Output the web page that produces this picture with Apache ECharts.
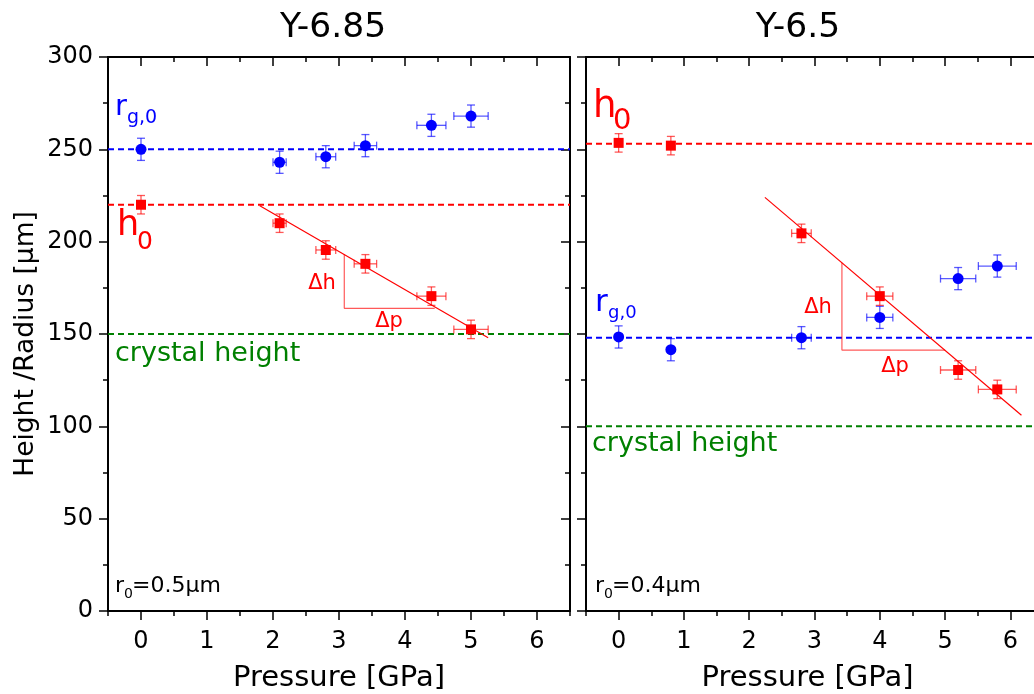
<!DOCTYPE html>
<html>
<head>
<meta charset="utf-8">
<script src="https://cdn.jsdelivr.net/npm/echarts@6/dist/echarts.min.js"></script>
<style>
html, body { margin: 0; padding: 0; background: #fff; }
#chart { width: 1034px; height: 694px; }
</style>
</head>
<body>
<div id="chart"></div>
<script>
// Axis ticks
const pressureRange = [-0.5, 6.5];
const pressureTicks = [0, 1, 2, 3, 4, 5, 6];
const pressureMinorTicks = [-0.5, 0.5, 1.5, 2.5, 3.5, 4.5, 5.5, 6.5];
const sizeTicks = [0, 50, 100, 150, 200, 250, 300];

// Y-6.85 sample
const pressureA = [0, 2.1, 2.8, 3.4, 4.4, 5.0];
const pressureErrA = [0, 0.1, 0.15, 0.17, 0.22, 0.26];
const radiusA = [250, 243, 246, 252, 263, 268];
const radiusErrA = [6, 6, 6, 6, 6, 6];
const heightA = [220, 210, 195.5, 188, 170.5, 152.5];
const heightErrA = [5, 5, 5, 5, 5, 5];
const fitPressureA = [1.8, 5.26];
const fitHeightA = [219.5, 148];
const slopePressureA = [3.08, 3.08, 4.45];
const slopeHeightA = [193.2, 163.9, 163.9];
const radiusRefA = 250;
const heightRefA = 220;
const crystalRefA = 150;

// Y-6.5 sample
const pressureB = [0, 0.8, 2.8, 4.0, 5.2, 5.8];
const pressureErrB = [0, 0, 0.15, 0.2, 0.27, 0.29];
const radiusB = [148.4, 141.5, 148, 159, 180, 186.8];
const radiusErrB = [6, 6, 6, 6, 6, 6];
const heightB = [253.5, 252, 204.5, 170.5, 130.5, 120];
const heightErrB = [5, 5, 5, 5, 5, 5];
const fitPressureB = [2.24, 6.17];
const fitHeightB = [224, 106];
const slopePressureB = [3.42, 3.42, 5.0];
const slopeHeightB = [188.6, 141.3, 141.3];
const radiusRefB = 148;
const heightRefB = 253;
const crystalRefB = 100;

const FONT = '"DejaVu Sans", sans-serif';
const BLUE = '#0000ff';
const RED = '#ff0000';
const GREEN = '#008000';
const BLACK = '#000';

const zip = (a, b) => a.map((v, i) => [v, b[i]]);
const zip4 = (a, b, c, d) => a.map((v, i) => [v, b[i], c[i], d[i]]);

function errorBars(color) {
  return function (params, api) {
    const x = api.value(0), y = api.value(1), xe = api.value(2), ye = api.value(3);
    const st = { stroke: color, lineWidth: 1.3 };
    const top = api.coord([x, y + ye]);
    const bot = api.coord([x, y - ye]);
    const cap = 4;
    const kids = [
      { type: 'line', shape: { x1: top[0], y1: top[1], x2: bot[0], y2: bot[1] }, style: st },
      { type: 'line', shape: { x1: top[0] - cap, y1: top[1], x2: top[0] + cap, y2: top[1] }, style: st },
      { type: 'line', shape: { x1: bot[0] - cap, y1: bot[1], x2: bot[0] + cap, y2: bot[1] }, style: st }
    ];
    if (xe > 0) {
      const l = api.coord([x - xe, y]);
      const r = api.coord([x + xe, y]);
      kids.push(
        { type: 'line', shape: { x1: l[0], y1: l[1], x2: r[0], y2: r[1] }, style: st },
        { type: 'line', shape: { x1: l[0], y1: l[1] - cap, x2: l[0], y2: l[1] + cap }, style: st },
        { type: 'line', shape: { x1: r[0], y1: r[1] - cap, x2: r[0], y2: r[1] + cap }, style: st }
      );
    }
    return { type: 'group', children: kids };
  };
}

const axisLineStyle = { color: BLACK, width: 2 };
const tickStyle = { color: BLACK, width: 1.5 };

function xAxesFor(g, namePad) {
  const base = {
    gridIndex: g, type: 'value', min: pressureRange[0], max: pressureRange[1],
    splitLine: { show: false }, axisLabel: { show: false }
  };
  return [
    Object.assign({}, base, {
      position: 'bottom',
      axisLine: { onZero: false, lineStyle: axisLineStyle },
      axisTick: { customValues: pressureTicks, length: 9, lineStyle: tickStyle },
      axisLabel: { customValues: pressureTicks, fontSize: 24, color: BLACK, fontFamily: FONT, margin: 19 },
      name: 'Pressure [GPa]',
      nameLocation: 'middle', nameGap: 53,
      nameTextStyle: { fontSize: 29, color: BLACK, fontFamily: FONT, padding: namePad }
    }),
    Object.assign({}, base, {
      position: 'bottom',
      axisLine: { show: false, onZero: false },
      axisTick: { customValues: pressureMinorTicks, length: 5, lineStyle: tickStyle }
    }),
    Object.assign({}, base, {
      position: 'top',
      axisLine: { onZero: false, lineStyle: axisLineStyle },
      axisTick: { inside: true, customValues: pressureTicks, length: 9, lineStyle: tickStyle }
    }),
    Object.assign({}, base, {
      position: 'top',
      axisLine: { show: false, onZero: false },
      axisTick: { inside: true, customValues: pressureMinorTicks, length: 5, lineStyle: tickStyle }
    })
  ];
}

function yAxesFor(g, withLabels) {
  const base = {
    gridIndex: g, type: 'value', min: 0, max: 300, splitLine: { show: false },
    minorSplitLine: { show: false }
  };
  return [
    Object.assign({}, base, {
      position: 'left',
      axisLine: { onZero: false, lineStyle: axisLineStyle },
      axisTick: { customValues: sizeTicks, length: 9, lineStyle: tickStyle },
      minorTick: { show: true, splitNumber: 2, length: 5, lineStyle: tickStyle },
      axisLabel: withLabels
        ? { customValues: sizeTicks, fontSize: 24, color: BLACK, fontFamily: FONT, margin: 15 }
        : { show: false },
      name: withLabels ? 'Height /Radius [µm]' : '',
      nameLocation: 'middle', nameGap: 68,
      nameTextStyle: { fontSize: 26.5, color: BLACK, fontFamily: FONT, padding: [0, 20, 0, 0] }
    }),
    Object.assign({}, base, {
      position: 'right',
      axisLine: { onZero: false, lineStyle: axisLineStyle },
      axisTick: { inside: true, customValues: sizeTicks, length: 9, lineStyle: tickStyle },
      minorTick: { show: true, splitNumber: 2, length: 5, lineStyle: tickStyle },
      axisLabel: { show: false }
    })
  ];
}

function refLine(xi, yi, value, color) {
  return {
    type: 'line', xAxisIndex: xi, yAxisIndex: yi, silent: true, symbol: 'none', z: 1,
    data: pressureRange.map(p => [p, value]),
    lineStyle: { color: color, width: 2, type: [6, 4] }
  };
}

function panelSeries(xi, yi, p, pe, rad, rade, h, he, fitP, fitH, sP, sH, rRef, hRef, cRef) {
  return [
    refLine(xi, yi, rRef, BLUE),
    refLine(xi, yi, hRef, RED),
    refLine(xi, yi, cRef, GREEN),
    {
      type: 'line', xAxisIndex: xi, yAxisIndex: yi, silent: true, symbol: 'none', z: 2,
      data: zip(fitP, fitH), lineStyle: { color: RED, width: 1.2 }
    },
    {
      type: 'line', xAxisIndex: xi, yAxisIndex: yi, silent: true, symbol: 'none', z: 2,
      data: zip(sP, sH), lineStyle: { color: 'rgba(255,0,0,0.65)', width: 1.2 }
    },
    {
      type: 'custom', xAxisIndex: xi, yAxisIndex: yi, z: 3, silent: true,
      renderItem: errorBars('rgba(0,0,255,0.65)'), data: zip4(p, rad, pe, rade),
      encode: { x: 0, y: 1 }
    },
    {
      type: 'custom', xAxisIndex: xi, yAxisIndex: yi, z: 3, silent: true,
      renderItem: errorBars('rgba(255,0,0,0.65)'), data: zip4(p, h, pe, he),
      encode: { x: 0, y: 1 }
    },
    {
      type: 'scatter', xAxisIndex: xi, yAxisIndex: yi, z: 4, symbol: 'circle', symbolSize: 11,
      itemStyle: { color: BLUE, opacity: 1 }, data: zip(p, rad)
    },
    {
      type: 'scatter', xAxisIndex: xi, yAxisIndex: yi, z: 4, symbol: 'rect', symbolSize: 10,
      itemStyle: { color: RED, opacity: 1 }, data: zip(p, h)
    }
  ];
}

function txt(x, y, text, size, color, align) {
  return {
    type: 'text', x: x, y: y, silent: true,
    style: { text: text, fill: color, font: size + 'px ' + FONT, align: align || 'left', verticalAlign: 'middle' }
  };
}

const chart = echarts.init(document.getElementById('chart'), null, { renderer: 'canvas' });

chart.setOption({
  backgroundColor: '#fff',
  animation: false,
  grid: [
    { left: 108, top: 57, width: 462, height: 554, outerBoundsMode: 'none', containLabel: false },
    { left: 586, top: 57, width: 457, height: 554, outerBoundsMode: 'none', containLabel: false }
  ],
  xAxis: xAxesFor(0, [0, 0, 0, 0]).concat(xAxesFor(1, [0, 14, 0, 0])),
  yAxis: yAxesFor(0, true).concat(yAxesFor(1, false)),
  series: panelSeries(0, 0, pressureA, pressureErrA, radiusA, radiusErrA, heightA, heightErrA,
      fitPressureA, fitHeightA, slopePressureA, slopeHeightA, radiusRefA, heightRefA, crystalRefA)
    .concat(panelSeries(4, 2, pressureB, pressureErrB, radiusB, radiusErrB, heightB, heightErrB,
      fitPressureB, fitHeightB, slopePressureB, slopeHeightB, radiusRefB, heightRefB, crystalRefB)),
  graphic: [
    txt(333, 28, 'Y-6.85', 34.5, BLACK, 'center'),
    txt(798, 28, 'Y-6.5', 34.5, BLACK, 'center'),
    // Y-6.85 annotations
    txt(115, 107, 'r', 29, BLUE),
    txt(127, 118, 'g,0', 19, BLUE),
    txt(117, 226, 'h', 35, RED),
    txt(137, 242, '0', 25, RED),
    txt(115, 354, 'crystal height', 27, GREEN),
    txt(322, 284, 'Δh', 21, RED, 'center'),
    txt(389, 322, 'Δp', 21, RED, 'center'),
    txt(115, 586, 'r', 22, BLACK),
    txt(124, 594, '0', 14, BLACK),
    txt(132, 586, '=0.5µm', 22, BLACK),
    // Y-6.5 annotations
    txt(593, 107, 'h', 37, RED),
    txt(613, 121, '0', 29, RED),
    txt(595, 303, 'r', 31, BLUE),
    txt(608, 313, 'g,0', 18, BLUE),
    txt(592, 444, 'crystal height', 27, GREEN),
    txt(818, 308, 'Δh', 21, RED, 'center'),
    txt(895, 367, 'Δp', 21, RED, 'center'),
    txt(595, 586, 'r', 22, BLACK),
    txt(604, 594, '0', 14, BLACK),
    txt(612, 586, '=0.4µm', 22, BLACK)
  ]
});
</script>
</body>
</html>
